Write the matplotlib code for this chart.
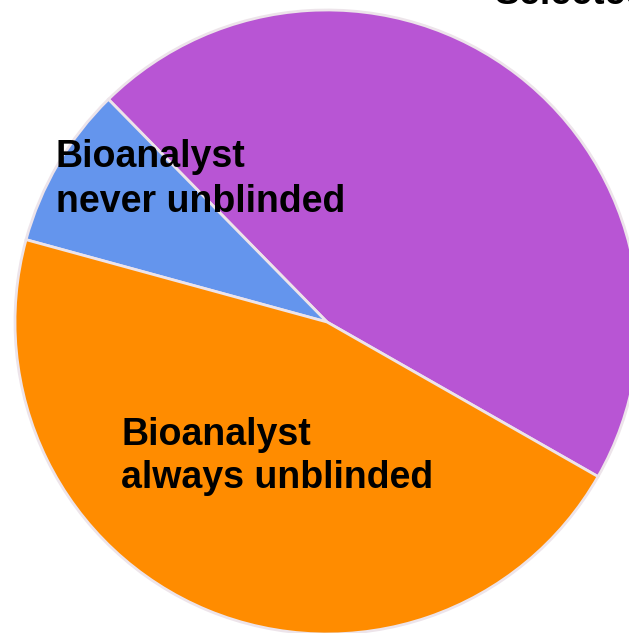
import matplotlib.pyplot as plt

# ===============================
# DATA (shares, %)
# ===============================

labels = ["Selected/", "Bioanalyst\nnever unblinded", "Bioanalyst\nalways unblinded"]
shares = [45.6, 8.4, 46.0]
colors = ["#B855D4", "#6495ED", "#FF8C00"]

# ===============================
# PLOT
# ===============================

plt.rcParams["font.family"] = ["Liberation Sans", "DejaVu Sans"]

fig = plt.figure(figsize=(6.29, 6.33), dpi=100)
ax = fig.add_axes([0, 0, 1, 1])

# axes in pixel units, y up
ax.pie(shares, colors=colors, startangle=-29.7, counterclock=True,
       center=(327, 311), radius=312,
       wedgeprops=dict(edgecolor="#EDE4EA", linewidth=2))

ax.set_xlim(0, 629)
ax.set_ylim(0, 633)
ax.set_aspect("auto")
ax.axis("off")

# each label drawn line by line so baselines sit where the reference has them
for i, line in enumerate(labels[1].split("\n")):
    ax.text(56, 633 - 167 - 45 * i, line, fontsize=27, fontweight="bold",
            ha="left", va="baseline")
for i, line in enumerate(labels[2].split("\n")):
    ax.text(121, 633 - 445 - 43 * i, line, fontsize=27, fontweight="bold",
            ha="left", va="baseline")
ax.text(495, 633 - 4, labels[0], fontsize=27, fontweight="bold",
        ha="left", va="baseline")

fig.savefig("out.png", dpi=100)
